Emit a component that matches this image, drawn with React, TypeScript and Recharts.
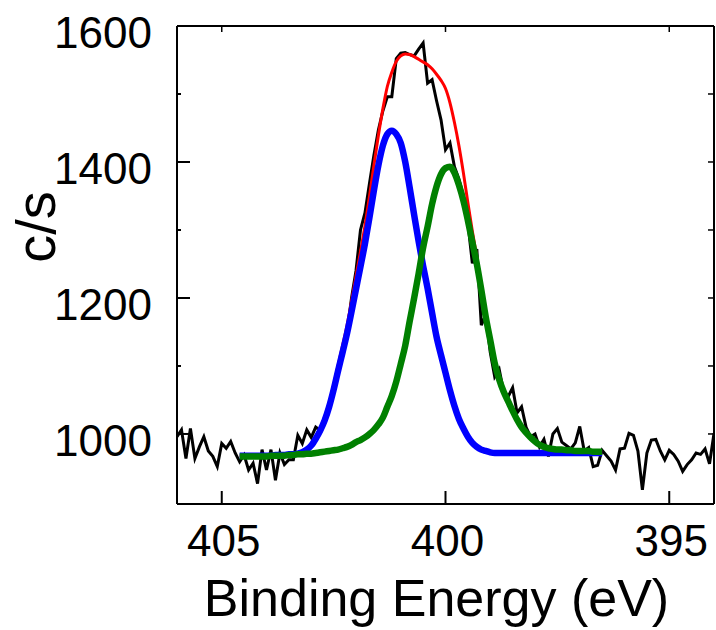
import { LineChart, Line, XAxis, YAxis } from "recharts"

const FONT = '"Liberation Sans", Arial, Helvetica, sans-serif'

// measured spectrum, 406.0 -> 394.0 eV in 0.1 eV steps
const rawStart = 406.0
const rawCounts = [
  996, 1006, 964, 1008, 964, 981, 996, 975, 967, 952,
  986, 979, 989, 972, 959, 969, 947, 957, 927, 977,
  947, 977, 932, 972, 955, 962, 962, 998, 986, 1006,
  995, 1010, 1005, 1025, 1040, 1065, 1094, 1124, 1150, 1200,
  1240, 1300, 1325, 1368, 1410, 1447, 1475, 1496, 1496, 1552,
  1560, 1561, 1558, 1556, 1566, 1575, 1516, 1521, 1490, 1462,
  1418, 1428, 1393, 1375, 1350, 1310, 1251, 1272, 1160, 1175,
  1120, 1084, 1095, 1062, 1055, 1068, 1031, 1040, 1010, 996,
  1000, 981, 992, 967, 1000, 1008, 988, 983, 978, 987,
  1011, 975, 980, 952, 954, 976, 968, 960, 947, 978,
  979, 1001, 998, 975, 918, 972, 991, 992, 975, 962,
  976, 970, 960, 945, 955, 962, 972, 970, 978, 956,
  1001,
]

// fitted curves, 404.6 -> 396.5 eV in 0.1 eV steps
const fitStart = 404.6
const envelopeFit = [
  968, 968, 968, 968, 968, 968, 968, 968, 969, 969,
  969, 970, 971, 972, 974, 979, 985, 996, 1009, 1025,
  1046, 1072, 1101, 1130, 1160, 1195, 1232, 1268, 1306, 1349,
  1395, 1439, 1478, 1511, 1532, 1548, 1556, 1559, 1558, 1555,
  1551, 1547, 1543, 1537, 1529, 1520, 1508, 1487, 1458, 1424,
  1384, 1340, 1298, 1260, 1218, 1176, 1140, 1104, 1080, 1062,
  1048, 1034, 1021, 1010, 1002, 995, 989, 984, 981, 979,
  978, 977, 977, 976, 976, 975, 975, 975, 975, 974,
  974, 974,
]
const peakHigh = [
  968, 968, 968, 968, 968, 968, 968, 968, 969, 969,
  969, 970, 970, 971, 973, 977, 983, 993, 1005, 1020,
  1040, 1065, 1093, 1120, 1148, 1180, 1213, 1246, 1280, 1318,
  1358, 1395, 1424, 1441, 1446, 1441, 1428, 1400, 1362, 1322,
  1283, 1247, 1214, 1178, 1143, 1116, 1090, 1064, 1041, 1022,
  1008, 996, 987, 981, 977, 975, 973, 972, 972, 972,
  972, 972, 972, 972, 972, 972, 972, 972, 972, 972,
  972, 972, 972, 972, 972, 972, 972, 972, 972, 972,
  972, 972,
]
const peakLow = [
  967, 967, 967, 967, 967, 967, 967, 968, 968, 968,
  968, 969, 969, 970, 970, 971, 971, 972, 973, 974,
  975, 976, 977, 979, 981, 984, 988, 991, 995, 1000,
  1006, 1014, 1024, 1040, 1056, 1077, 1103, 1130, 1166, 1200,
  1236, 1274, 1305, 1338, 1364, 1382, 1391, 1393, 1384, 1366,
  1343, 1314, 1282, 1250, 1212, 1172, 1138, 1104, 1080, 1062,
  1048, 1034, 1021, 1010, 1002, 995, 989, 984, 981, 979,
  978, 977, 977, 976, 976, 975, 975, 975, 975, 974,
  974, 974,
]

const xTicks = [405, 400, 395]
const yTicks = [1000, 1100, 1200, 1300, 1400, 1500, 1600]
const yLabelled = [1000, 1200, 1400, 1600]

const xDomain = [394, 406]
const yDomain = [897, 1600]

const toRows = (start: number, vals: number[]) =>
  vals.map((v, i) => ({ be: Math.round((start - i * 0.1) * 10) / 10, v }))

const rawRows = toRows(rawStart, rawCounts)
const envRows = toRows(fitStart, envelopeFit)
const highRows = toRows(fitStart, peakHigh)
const lowRows = toRows(fitStart, peakLow)

const BottomTick = ({ x, y, payload }: any) => (
  <g>
    <line x1={x} y1={y} x2={x} y2={y - 13} stroke="#000" strokeWidth={2} />
    <text x={x + 2} y={y + 52} textAnchor="middle" fontSize={44} fontFamily={FONT} fill="#000">
      {payload.value}
    </text>
  </g>
)

const TopTick = ({ x, y }: any) => (
  <line x1={x} y1={y} x2={x} y2={y + 6} stroke="#000" strokeWidth={1.5} />
)

const LeftTick = ({ x, y, payload }: any) => {
  const major = yLabelled.includes(payload.value)
  return (
    <g>
      <line x1={x} y1={y} x2={x + (major ? 13 : 4)} y2={y} stroke="#000" strokeWidth={2} />
      {major && (
        <text x={x - 25} y={y + 22} textAnchor="end" fontSize={44} fontFamily={FONT} fill="#000">
          {payload.value}
        </text>
      )}
    </g>
  )
}

const RightTick = ({ x, y }: any) => (
  <line x1={x} y1={y} x2={x - 6} y2={y} stroke="#000" strokeWidth={1.5} />
)

const XTitle = ({ viewBox }: any) => (
  <text x={viewBox.x + viewBox.width / 2 - 9} y={616} textAnchor="middle" fontSize={52} fontFamily={FONT} fill="#000">
    Binding Energy (eV)
  </text>
)

const YTitle = () => (
  <text x={55} y={227} transform="rotate(-90 55 227)" textAnchor="middle" fontSize={56} fontFamily={FONT} fill="#000">
    c/s
  </text>
)

export default function App() {
  return (
    <div style={{ position: "absolute", left: 0, top: 0, width: 716, height: 630, background: "#fff" }}>
      <LineChart width={716} height={630} margin={{ top: 25, right: 1, bottom: 0, left: 0 }}>
        <XAxis xAxisId="b" type="number" dataKey="be" domain={xDomain} reversed allowDataOverflow
          ticks={xTicks} height={126} tickSize={0} tickMargin={0} tickLine={false}
          axisLine={{ stroke: "#000", strokeWidth: 2 }} tick={<BottomTick />} label={<XTitle />} />
        <XAxis xAxisId="t" orientation="top" type="number" dataKey="be" domain={xDomain} reversed allowDataOverflow
          ticks={xTicks} height={1} tickSize={0} tickMargin={0} tickLine={false}
          axisLine={{ stroke: "#000", strokeWidth: 2 }} tick={<TopTick />} />
        <YAxis yAxisId="l" type="number" domain={yDomain} allowDataOverflow ticks={yTicks} width={177}
          tickSize={0} tickMargin={0} tickLine={false} axisLine={{ stroke: "#000", strokeWidth: 2 }}
          tick={<LeftTick />} label={<YTitle />} />
        <YAxis yAxisId="r" orientation="right" type="number" domain={yDomain} allowDataOverflow ticks={yTicks} width={1}
          tickSize={0} tickMargin={0} tickLine={false} axisLine={{ stroke: "#000", strokeWidth: 2 }}
          tick={<RightTick />} />

        <Line xAxisId="b" yAxisId="l" data={rawRows} dataKey="v" type="linear" stroke="#000"
          strokeWidth={3} dot={false} isAnimationActive={false} />
        <Line xAxisId="b" yAxisId="l" data={envRows} dataKey="v" type="monotone" stroke="#ff0000"
          strokeWidth={3} dot={false} isAnimationActive={false} />
        <Line xAxisId="b" yAxisId="l" data={highRows} dataKey="v" type="monotone" stroke="#0000ff"
          strokeWidth={6.5} dot={false} isAnimationActive={false} />
        <Line xAxisId="b" yAxisId="l" data={lowRows} dataKey="v" type="monotone" stroke="#008000"
          strokeWidth={6.5} dot={false} isAnimationActive={false} />
        <Line xAxisId="t" yAxisId="r" data={envRows} dataKey="v" stroke="none" dot={false}
          legendType="none" isAnimationActive={false} />
      </LineChart>
    </div>
  )
}
